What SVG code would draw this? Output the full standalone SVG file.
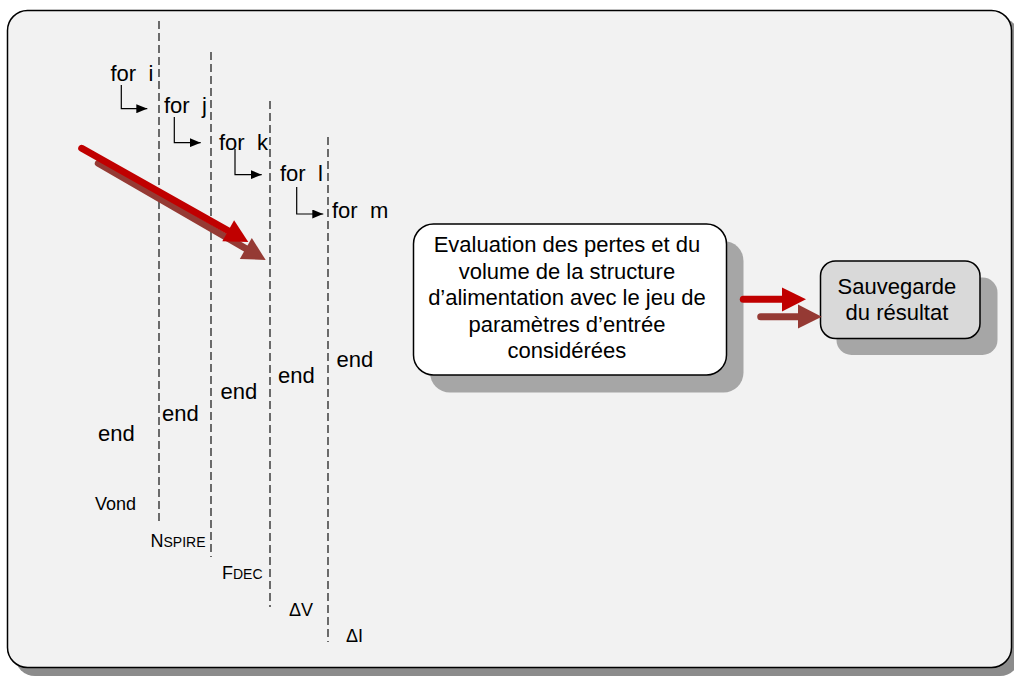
<svg xmlns="http://www.w3.org/2000/svg" width="1014" height="676" viewBox="0 0 1014 676">
<defs>
<style>
.t{font-family:"Liberation Sans",Arial,sans-serif;font-size:22px;fill:#000;white-space:pre}
.s{font-family:"Liberation Sans",Arial,sans-serif;font-size:18px;fill:#000}
.dash{stroke:#111;stroke-width:1.2;stroke-dasharray:8 4;fill:none}
.elb{stroke:#000;stroke-width:1.2;fill:none;marker-end:url(#ah)}
.red{stroke:#C00000;stroke-width:7;stroke-linecap:round;fill:none}
.dred{stroke:#953A34;stroke-width:7;stroke-linecap:round;fill:none}
</style>
<marker id="ah" markerWidth="11" markerHeight="9" refX="11" refY="4.5" orient="auto" markerUnits="userSpaceOnUse">
<path d="M0,0 L11,4.5 L0,9 Z" fill="#000"/>
</marker>
</defs>
<rect width="1014" height="676" fill="#fff"/>
<g id="frame">
<rect x="15" y="18" width="1005" height="658" rx="20" fill="#8C8C8C"/>
<rect x="7.5" y="10.5" width="1004" height="657" rx="20" fill="#F2F2F2" stroke="#000" stroke-width="1.5"/>
</g>
<g id="loops">
<line class="dash" x1="159" y1="21" x2="159" y2="525"/>
<line class="dash" x1="211" y1="52" x2="211" y2="557"/>
<line class="dash" x1="270" y1="101" x2="270" y2="607"/>
<line class="dash" x1="328" y1="137" x2="328" y2="642"/>
<text class="t" x="110.5" y="81" xml:space="preserve">for  i</text>
<text class="t" x="164" y="113" xml:space="preserve">for  j</text>
<text class="t" x="219" y="149.5" xml:space="preserve">for  k</text>
<text class="t" x="280" y="181" xml:space="preserve">for  l</text>
<text class="t" x="332" y="218" xml:space="preserve">for  m</text>
<text class="t" x="98" y="441">end</text>
<text class="t" x="162" y="421">end</text>
<text class="t" x="220.5" y="399">end</text>
<text class="t" x="278" y="383">end</text>
<text class="t" x="336.5" y="367">end</text>
<text class="s" x="95" y="510">Vond</text>
<text class="s" x="150.5" y="547">N<tspan font-size="14">SPIRE</tspan></text>
<text class="s" x="222" y="579">F<tspan font-size="14">DEC</tspan></text>
<text class="s" x="289" y="616">ΔV</text>
<text class="s" x="346" y="642">ΔI</text>
</g>
<g id="node-eval">
<rect x="430" y="241" width="313.5" height="151.5" rx="20" fill="#A6A6A6"/>
<rect x="413.5" y="224" width="313" height="151" rx="20" fill="#fff" stroke="#000" stroke-width="1.5"/>
<text class="t" text-anchor="middle">
<tspan x="570" y="252">Evaluation des pertes et du</tspan>
<tspan x="570" y="278.5">volume de la structure</tspan>
<tspan x="570" y="305">d’alimentation avec le jeu de</tspan>
<tspan x="570" y="331.5">paramètres d’entrée</tspan>
<tspan x="570" y="358">considérées</tspan>
</text>
</g>
<g id="node-save">
<rect x="836.5" y="277.5" width="161" height="77.5" rx="15" fill="#A6A6A6"/>
<rect x="820.5" y="261" width="159.5" height="77.5" rx="15" fill="#D9D9D9" stroke="#000" stroke-width="1.5"/>
<text class="t" text-anchor="middle">
<tspan x="900" y="293.5">Sauvegarde</tspan>
<tspan x="900" y="320">du résultat</tspan>
</text>
</g>
<g id="connectors">
<path class="elb" d="M121.3,85 V108.7 H147.3"/>
<path class="elb" d="M174.3,117 V142.7 H200.7"/>
<path class="elb" d="M235,149 V174.7 H261.7"/>
<path class="elb" d="M296.7,187 V214 H323.3"/>
<line class="dred" x1="98.3" y1="163.3" x2="247" y2="249.3"/>
<polygon points="265.7,260 239.8,258.9 251.8,238.1" fill="#953A34"/>
<line class="red" x1="81.7" y1="148.3" x2="230" y2="231.7"/>
<polygon points="248.3,242 222.3,241.2 234.1,220.2" fill="#C00000"/>
<line class="red" x1="743.3" y1="299.3" x2="784" y2="299.3" stroke-width="6"/>
<polygon points="782,287.5 806,299.3 782,311.5" fill="#C00000"/>
<line class="dred" x1="760.7" y1="316.7" x2="800" y2="316.7" stroke-width="6"/>
<polygon points="798,304.5 821.7,316.7 798,328.5" fill="#953A34"/>
</g>
</svg>
